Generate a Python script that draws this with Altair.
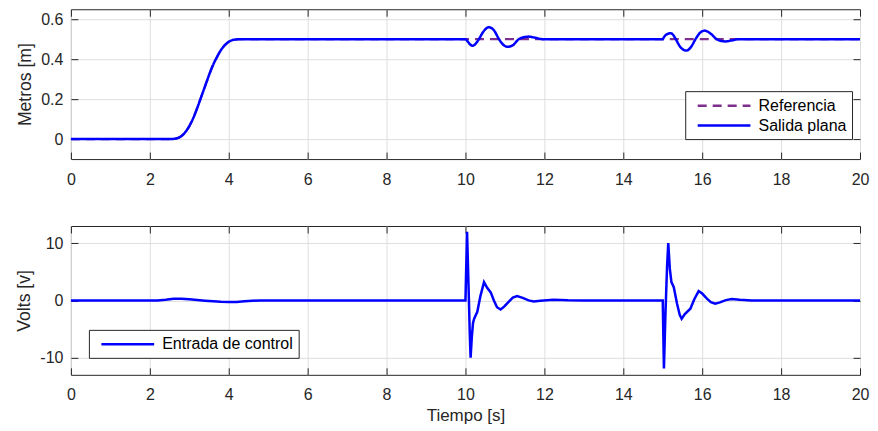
import altair as alt
import pandas as pd

# ---------------- data ----------------
# Top panel: reference trajectory (Referencia)
ref_t = [0, 2.5, 2.6, 2.7, 2.8, 2.9, 3.0, 3.1, 3.2, 3.3, 3.4, 3.5, 3.6, 3.7, 3.8, 3.9, 4.0, 4.1, 4.2, 4.3, 20]
ref_y = [0, 0, 0.001, 0.005, 0.015, 0.035, 0.065, 0.105, 0.155, 0.21, 0.265, 0.32, 0.37, 0.41, 0.445, 0.47,
         0.487, 0.496, 0.499, 0.5, 0.5]

# Top panel: flat output (Salida plana)
out_t = [0, 2.5, 2.6, 2.7, 2.8, 2.9, 3.0, 3.1, 3.2, 3.3, 3.4, 3.5, 3.6, 3.7, 3.8, 3.9, 4.0, 4.1, 4.2, 4.3,
         10.0, 10.05, 10.1, 10.18, 10.26, 10.34, 10.45, 10.59, 10.72, 10.85, 10.96, 11.07, 11.2, 11.35, 11.48,
         11.6, 11.75, 11.98,
         15.0, 15.03, 15.1, 15.2, 15.27, 15.33, 15.45, 15.6, 15.72, 15.83, 15.95, 16.06, 16.2, 16.37, 16.48,
         16.58, 16.75, 16.92, 17.2, 20]
out_y = [0, 0, 0.001, 0.005, 0.015, 0.035, 0.065, 0.105, 0.155, 0.21, 0.265, 0.32, 0.37, 0.41, 0.445, 0.47,
         0.487, 0.496, 0.499, 0.5,
         0.5, 0.49, 0.478, 0.467, 0.478, 0.5, 0.537, 0.56, 0.545, 0.5, 0.472, 0.462, 0.47, 0.5, 0.51,
         0.513, 0.508, 0.5,
         0.5, 0.51, 0.524, 0.53, 0.52, 0.5, 0.46, 0.443, 0.462, 0.5, 0.533, 0.543, 0.53, 0.5, 0.491,
         0.489, 0.494, 0.5, 0.5, 0.5]

# Bottom panel: control input (Entrada de control)
ctrl_t = [0, 2.2, 2.4, 2.6, 2.8, 3.0, 3.2, 3.4, 3.6, 3.8, 4.0, 4.2, 4.4, 4.6, 4.8,
          10.0, 10.04, 10.08, 10.11, 10.13, 10.16, 10.19, 10.22, 10.3, 10.38, 10.47, 10.55, 10.64, 10.72,
          10.8, 10.89, 10.98, 11.1, 11.2, 11.31, 11.45, 11.6, 11.73, 11.9, 12.23, 12.6, 13.0,
          15.0, 15.03, 15.07, 15.11, 15.14, 15.18, 15.22, 15.28, 15.36, 15.43, 15.48, 15.56, 15.7, 15.8,
          15.91, 16.0, 16.12, 16.22, 16.33, 16.45, 16.6, 16.75, 16.95, 17.25, 20]
ctrl_u = [0, 0, 0.12, 0.3, 0.3, 0.2, 0.08, -0.05, -0.15, -0.25, -0.3, -0.28, -0.15, -0.05, 0,
          0, 12.0, 2.0, -6.0, -10.0, -6.5, -4.0, -3.2, -2.0, 0.8, 3.2, 2.2, 1.4, 0.0,
          -1.2, -1.6, -1.1, -0.2, 0.5, 0.75, 0.45, 0.0, -0.17, -0.05, 0.1, 0.02, 0,
          0, -11.9, -2.0, 6.0, 10.0, 5.5, 3.2, 2.3, -0.5, -2.5, -3.2, -2.4, -1.45, 0.2,
          1.62, 1.2, 0.3, -0.3, -0.58, -0.35, 0.05, 0.23, 0.1, 0, 0]

x_ticks = [0, 2, 4, 6, 8, 10, 12, 14, 16, 18, 20]
top_ticks = [0, 0.2, 0.4, 0.6]
bot_ticks = [-10, 0, 10]
top_series = ["Referencia", "Salida plana"]
bot_series = ["Entrada de control"]

# ---------------- style ----------------
FONT = "Liberation Sans"
AX = "#262626"
GRID = "#dedede"
TICK = 7
W = 790
LEG_PATH = "M-3.3,0H3.3"

ref_df = pd.DataFrame({"t": ref_t, "y": ref_y, "serie": top_series[0]})
out_df = pd.DataFrame({"t": out_t, "y": out_y, "serie": top_series[1]})
ctrl_df = pd.DataFrame({"t": ctrl_t, "u": ctrl_u, "serie": bot_series[0]})

xscale = alt.Scale(domain=[0, 20], nice=False, zero=False)


def label_x_axis(title):
    return alt.Axis(orient="bottom", values=x_ticks, grid=True, gridColor=GRID, gridWidth=1, ticks=False,
                    domain=False, labelPadding=12, labelFontSize=16, labelFont=FONT, labelColor=AX,
                    labelFlush=False, title=title, titleFontSize=17, titleFont=FONT, titleColor=AX,
                    titleFontWeight="normal", titlePadding=5)


def label_y_axis(title, values, fmt):
    return alt.Axis(orient="left", values=values, grid=True, gridColor=GRID, gridWidth=1, ticks=False,
                    domain=False, labelPadding=8, labelFontSize=16, labelFont=FONT, labelColor=AX,
                    labelExpr=fmt, title=title, titleFontSize=17.6, titleFont=FONT, titleColor=AX,
                    titleFontWeight="normal", titlePadding=6)


def tick_axis(orient, values):
    return alt.Axis(orient=orient, values=values, grid=False, labels=False, domain=False, ticks=True,
                    tickSize=TICK, tickColor=AX, tickWidth=1, offset=-TICK, title=None,
                    minExtent=0, maxExtent=0)


def legend(lx, ly):
    return alt.Legend(orient="none", legendX=lx, legendY=ly, title=None, symbolType=LEG_PATH,
                      symbolSize=256, symbolStrokeWidth=2.5, symbolOffset=24.4, labelFontSize=16,
                      labelFont=FONT, labelColor="black", fillColor="white", strokeColor=AX, padding=5,
                      rowPadding=2, labelOffset=25, symbolOpacity=1)


def tick_layers(df, ycol, yscale, yvals):
    a = alt.Chart(df).mark_line(strokeOpacity=0).encode(
        x=alt.X("t:Q", scale=xscale, axis=tick_axis("bottom", x_ticks)),
        y=alt.Y(f"{ycol}:Q", scale=yscale, axis=tick_axis("left", yvals)),
    )
    b = alt.Chart(df).mark_line(strokeOpacity=0).encode(
        x=alt.X("t:Q", scale=xscale, axis=tick_axis("top", x_ticks)),
        y=alt.Y(f"{ycol}:Q", scale=yscale, axis=tick_axis("right", yvals)),
    )
    return a, b


# ---------------- top panel ----------------
top_yscale = alt.Scale(domain=[-0.1, 0.65], nice=False, zero=False)
top_color = alt.Color("serie:N", scale=alt.Scale(domain=top_series, range=["#7e2f8e", "#0000ff"]),
                      legend=legend(615, 82))
top_dash = alt.StrokeDash("serie:N", scale=alt.Scale(domain=top_series, range=[[9, 6], [1, 0]]),
                          legend=legend(615, 82))

ref_layer = alt.Chart(ref_df).mark_line(strokeWidth=2.2, interpolate="monotone").encode(
    x=alt.X("t:Q", scale=xscale, axis=label_x_axis(None)),
    y=alt.Y("y:Q", scale=top_yscale, axis=label_y_axis("Metros [m]", top_ticks, "format(datum.value, '.1~f')")),
    color=top_color, strokeDash=top_dash,
)
out_layer = alt.Chart(out_df).mark_line(strokeWidth=2.5, interpolate="monotone").encode(
    x=alt.X("t:Q", scale=xscale, axis=None),
    y=alt.Y("y:Q", scale=top_yscale, axis=None),
    color=top_color, strokeDash=top_dash,
)
ta, tb = tick_layers(ref_df, "y", top_yscale, top_ticks)
top = alt.layer(ref_layer, out_layer, ta, tb).resolve_axis(x="independent", y="independent").properties(
    width=W, height=150)

# ---------------- bottom panel ----------------
bot_yscale = alt.Scale(domain=[-13, 13], nice=False, zero=False)
ctrl_layer = alt.Chart(ctrl_df).mark_line(strokeWidth=2.5).encode(
    x=alt.X("t:Q", scale=xscale, axis=label_x_axis("Tiempo [s]")),
    y=alt.Y("u:Q", scale=bot_yscale, axis=label_y_axis("Volts [v]", bot_ticks, "'' + datum.value")),
    color=alt.Color("serie:N", scale=alt.Scale(domain=bot_series, range=["#0000ff"]),
                    legend=legend(18, 104)),
)
ba, bb = tick_layers(ctrl_df, "u", bot_yscale, bot_ticks)
bottom = alt.layer(ctrl_layer, ba, bb).resolve_axis(x="independent", y="independent").properties(
    width=W, height=149)

chart = alt.vconcat(top, bottom, spacing=37).resolve_scale(
    color="independent", strokeDash="independent").resolve_legend(
    color="independent", strokeDash="independent").properties(
    padding={"left": 7, "top": 0, "right": 0, "bottom": 0}, background="white").configure_view(
    stroke=AX, strokeWidth=1)

chart.save("out.html", embed_options={"renderer": "svg", "actions": False})
